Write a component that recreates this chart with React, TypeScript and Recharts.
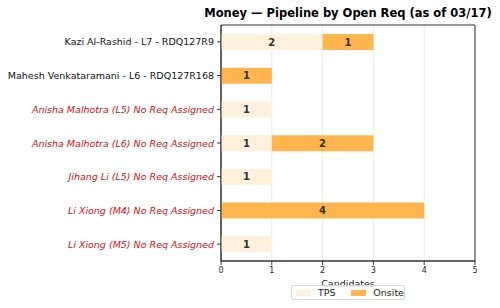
import { BarChart, Bar, XAxis, YAxis, CartesianGrid, LabelList, ReferenceArea } from 'recharts';

const reqs = [
  'Kazi Al-Rashid - L7 - RDQ127R9',
  'Mahesh Venkataramani - L6 - RDQ127R168',
  'Anisha Malhotra (L5) No Req Assigned',
  'Anisha Malhotra (L6) No Req Assigned',
  'Jihang Li (L5) No Req Assigned',
  'Li Xiong (M4) No Req Assigned',
  'Li Xiong (M5) No Req Assigned',
];
const tps = [2, 0, 1, 1, 1, 0, 1];
const onsite = [1, 1, 0, 2, 0, 4, 0];
const xTicks = [0, 1, 2, 3, 4, 5];

const TPS_COLOR = '#fef0dc';
const ONSITE_COLOR = '#ffb54d';
const FONT = '"DejaVu Sans", sans-serif';

const rows = reqs.map((req, i) => ({ req, tps: tps[i], onsite: onsite[i] }));

const ReqTick = (props: any) => {
  const { x, y, payload } = props;
  const unassigned = String(payload.value).includes('No Req Assigned');
  return (
    <text
      x={x}
      y={y}
      dy={3.5}
      textAnchor="end"
      fontSize={9.5}
      fontFamily={FONT}
      fontStyle={unassigned ? 'italic' : 'normal'}
      fill={unassigned ? '#d40f0f' : '#111'}
    >
      {payload.value}
    </text>
  );
};

const countLabel = (props: any) => {
  const { x, y, width, height, value } = props;
  if (!value) return null;
  return (
    <text
      x={x + width / 2}
      y={y + height / 2}
      dy={3.5}
      textAnchor="middle"
      fontSize={10}
      fontWeight="bold"
      fontFamily={FONT}
      fill="#333"
    >
      {value}
    </text>
  );
};

export default function App() {
  return (
    <div style={{ position: 'absolute', left: 0, top: 0, width: 500, height: 308, background: '#fff', fontFamily: FONT }}>
      <div
        style={{
          position: 'absolute',
          left: 204,
          width: 288,
          top: 6,
          textAlign: 'center',
          fontSize: 11.5,
          fontWeight: 'bold',
          color: '#000',
        }}
      >
        Money — Pipeline by Open Req (as of 03/17)
      </div>
      <BarChart
        width={500}
        height={308}
        data={rows}
        layout="vertical"
        margin={{ top: 25, right: 25, left: 0, bottom: 0 }}
        barSize={16}
      >
        <CartesianGrid horizontal={false} stroke="#e6e6e6" strokeWidth={0.8} />
        <XAxis
          type="number"
          domain={[0, 5]}
          ticks={xTicks}
          height={47}
          tickSize={4}
          tickMargin={2}
          tick={{ fontSize: 8, fill: '#222', fontFamily: FONT }}
          stroke="#333"
          label={{ value: 'Candidates', position: 'insideTop', offset: 19, fontSize: 9.5, fill: '#222', fontFamily: FONT }}
        />
        <YAxis
          type="category"
          dataKey="req"
          width={221}
          tickSize={4}
          tickMargin={3}
          tick={<ReqTick />}
          stroke="#333"
          interval={0}
        />
        <Bar dataKey="tps" stackId="a" fill={TPS_COLOR} isAnimationActive={false}>
          <LabelList dataKey="tps" content={countLabel} />
        </Bar>
        <Bar dataKey="onsite" stackId="a" fill={ONSITE_COLOR} isAnimationActive={false}>
          <LabelList dataKey="onsite" content={countLabel} />
        </Bar>
        <ReferenceArea x1={0} x2={5} fill="none" stroke="#333" strokeWidth={1} ifOverflow="visible" />
      </BarChart>
      <div
        style={{
          position: 'absolute',
          left: 291,
          top: 285,
          width: 114,
          height: 15,
          boxSizing: 'border-box',
          border: '1px solid #d6d6d6',
          borderRadius: 2,
          background: 'rgba(255,255,255,0.8)',
          display: 'flex',
          alignItems: 'center',
          fontSize: 9.5,
          color: '#222',
        }}
      >
        <span style={{ display: 'inline-block', width: 16, height: 6, background: TPS_COLOR, marginLeft: 4, marginRight: 7 }} />
        <span>TPS</span>
        <span style={{ display: 'inline-block', width: 16, height: 6, background: ONSITE_COLOR, marginLeft: 16, marginRight: 7 }} />
        <span>Onsite</span>
      </div>
    </div>
  );
}
